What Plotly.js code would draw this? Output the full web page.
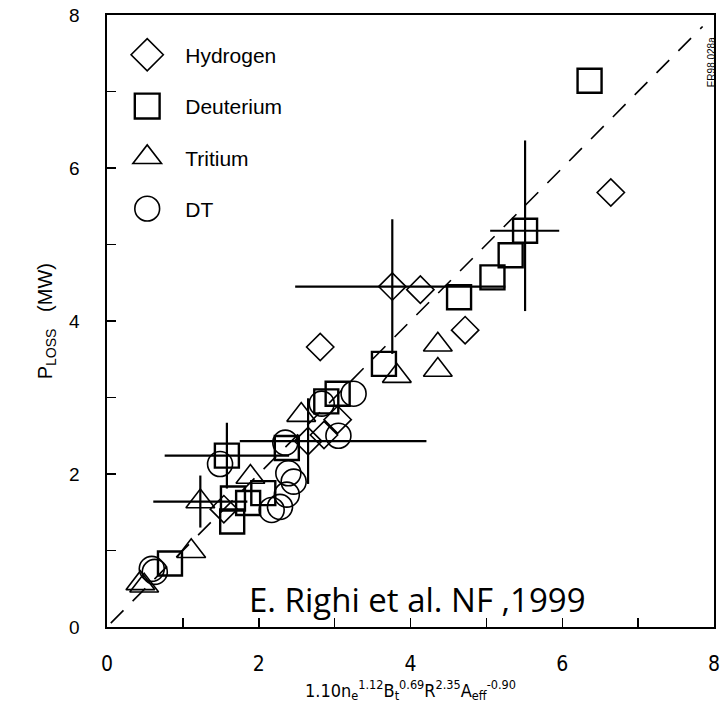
<!DOCTYPE html>
<html><head><meta charset="utf-8">
<script src="https://cdn.plot.ly/plotly-3.0.1.min.js"></script>
<style>html,body{margin:0;padding:0;background:#fff}</style>
</head><body><div id="chart" style="width:724px;height:704px"></div>
<script>
// ---- data ----
const hydrogenX = [6.64, 3.76, 4.13, 4.72, 2.81, 3.04, 2.86, 2.65, 1.54];
const hydrogenY = [5.68, 4.45, 4.41, 3.88, 3.66, 2.71, 2.51, 2.43, 1.54];
const hydrogenXErrPlus  = [0, 1.49, 0, 0, 0, 0, 0, 1.56, 0];
const hydrogenXErrMinus = [0, 1.28, 0, 0, 0, 0, 0, 0.90, 0];
const hydrogenYErrPlus  = [0, 0.88, 0, 0, 0, 0, 0, 0.56, 0];
const hydrogenYErrMinus = [0, 0.88, 0, 0, 0, 0, 0, 0.56, 0];

const deuteriumX = [6.36, 5.51, 5.32, 5.08, 4.64, 3.65, 3.04, 2.89, 2.37, 1.58, 2.06, 1.66, 1.86, 1.65, 0.83];
const deuteriumY = [7.14, 5.18, 4.86, 4.57, 4.31, 3.44, 3.05, 2.95, 2.34, 2.24, 1.75, 1.68, 1.62, 1.38, 0.83];
const deuteriumXErrPlus  = [0, 0.45, 0, 0, 0, 0, 0, 0, 0, 0.82, 0, 0, 0, 0, 0];
const deuteriumXErrMinus = [0, 0.46, 0, 0, 0, 0, 0, 0, 0, 0.82, 0, 0, 0, 0, 0];
const deuteriumYErrPlus  = [0, 1.18, 0, 0, 0, 0, 0, 0, 0, 0.43, 0, 0, 0, 0, 0];
const deuteriumYErrMinus = [0, 1.05, 0, 0, 0, 0, 0, 0, 0, 0.43, 0, 0, 0, 0, 0];

const tritiumX = [4.36, 4.36, 3.82, 2.56, 1.89, 1.23, 1.11, 0.44, 0.49];
const tritiumY = [3.69, 3.36, 3.28, 2.77, 1.96, 1.64, 0.99, 0.57, 0.54];
const tritiumXErr = [0, 0, 0, 0, 0, 0.62, 0, 0, 0];
const tritiumYErr = [0, 0, 0, 0, 0, 0.34, 0, 0, 0];

const dtX = [0.59, 0.63, 1.49, 2.35, 2.39, 2.46, 2.37, 2.28, 2.17, 2.83, 3.05, 3.25];
const dtY = [0.76, 0.72, 2.13, 2.41, 2.01, 1.90, 1.73, 1.57, 1.53, 2.92, 2.50, 3.05];

const identityLine = [0.05, 7.85];   // y = x reference line ends

const seriesNames = ['Hydrogen', 'Deuterium', 'Tritium', 'DT'];
const axisTicks = [0, 2, 4, 6, 8];
const xTitle = '1.10n<sub>e</sub><sup>1.12</sup>B<sub>t</sub><sup>0.69</sup>R<sup>2.35</sup>A<sub>eff</sub><sup>-0.90</sup>';
const yTitle = 'P<sub>LOSS</sub>   (MW)';

// ---- styling ----
const black = '#000';
const errStyle = {type: 'data', width: 0, thickness: 2.2, color: black};

const traces = [
  {
    name: seriesNames[3], x: dtX, y: dtY, type: 'scatter', mode: 'markers',
    legendgroup: 'g4', legendrank: 4,
    marker: {symbol: 'circle-open', size: 25, color: black, line: {width: 1.6, color: black}}
  },
  {
    name: seriesNames[2], x: tritiumX, y: tritiumY, type: 'scatter', mode: 'markers',
    legendgroup: 'g3', legendrank: 3,
    error_x: Object.assign({array: tritiumXErr}, errStyle),
    error_y: Object.assign({array: tritiumYErr}, errStyle),
    marker: {symbol: 'triangle-up-open', size: 25, color: black, line: {width: 1.6, color: black}}
  },
  {
    name: seriesNames[0], x: hydrogenX, y: hydrogenY, type: 'scatter', mode: 'markers',
    legendgroup: 'g1', legendrank: 1,
    error_x: Object.assign({symmetric: false, array: hydrogenXErrPlus, arrayminus: hydrogenXErrMinus}, errStyle),
    error_y: Object.assign({symmetric: false, array: hydrogenYErrPlus, arrayminus: hydrogenYErrMinus}, errStyle),
    marker: {symbol: 'diamond-open', size: 21, color: black, line: {width: 1.6, color: black}}
  },
  {
    name: seriesNames[1], x: deuteriumX, y: deuteriumY, type: 'scatter', mode: 'markers',
    legendgroup: 'g2', legendrank: 2,
    error_x: Object.assign({symmetric: false, array: deuteriumXErrPlus, arrayminus: deuteriumXErrMinus}, errStyle),
    error_y: Object.assign({symmetric: false, array: deuteriumYErrPlus, arrayminus: deuteriumYErrMinus}, errStyle),
    marker: {symbol: 'square-open', size: 24, color: black, line: {width: 2.4, color: black}}
  },
  {
    x: identityLine, y: identityLine, type: 'scatter', mode: 'lines', showlegend: false,
    hoverinfo: 'skip',
    line: {color: black, width: 1.6, dash: '18px,13px'}
  }
];

const narrow = '"Liberation Sans Narrow", "Arial Narrow", "DejaVu Sans Condensed", "Liberation Sans", Arial, sans-serif';
const arial = '"Liberation Sans", Arial, sans-serif';

const layout = {
  width: 724, height: 704,
  margin: {l: 107, r: 10, t: 15, b: 77},
  paper_bgcolor: '#fff', plot_bgcolor: '#fff',
  showlegend: true,
  legend: {
    x: 0.03, y: 0.968, xanchor: 'left', yanchor: 'top',
    bgcolor: 'rgba(0,0,0,0)', borderwidth: 0,
    font: {family: arial, size: 21, color: black},
    traceorder: 'grouped', tracegroupgap: 21, itemwidth: 50
  },
  xaxis: {
    range: [0, 8], tickvals: axisTicks, ticktext: axisTicks.map(String),
    ticks: 'inside', ticklen: 9, tickwidth: 1.5, tickcolor: black,
    minor: {dtick: 1, ticks: 'inside', ticklen: 9, tickwidth: 1.5, tickcolor: black},
    showline: true, linewidth: 1.6, linecolor: black, mirror: true,
    showgrid: false, zeroline: false,
    ticklabelstandoff: 17,
    tickfont: {family: narrow, size: 21, color: black}
  },
  yaxis: {
    range: [0, 8], tickvals: axisTicks, ticktext: axisTicks.map(String),
    ticks: 'inside', ticklen: 9, tickwidth: 1.5, tickcolor: black,
    minor: {dtick: 1, ticks: 'inside', ticklen: 9, tickwidth: 1.5, tickcolor: black},
    showline: true, linewidth: 1.6, linecolor: black, mirror: true,
    showgrid: false, zeroline: false,
    ticklabelstandoff: 22,
    tickfont: {family: arial, size: 19, color: black}
  },
  annotations: [
    {
      text: xTitle, xref: 'paper', yref: 'paper',
      x: 0.5, y: -0.1025, xanchor: 'center', yanchor: 'middle', showarrow: false,
      font: {family: narrow, size: 18, color: black}
    },
    {
      text: yTitle, xref: 'paper', yref: 'paper',
      x: -0.1, y: 0.5, xanchor: 'center', yanchor: 'middle', showarrow: false,
      textangle: -90,
      font: {family: arial, size: 20, color: black}
    },
    {
      text: 'E. Righi et al. NF ,1999', xref: 'paper', yref: 'paper',
      x: 0.511, y: 0.045, xanchor: 'center', yanchor: 'middle', showarrow: false,
      font: {family: '"Open Sans", "Noto Sans", sans-serif', size: 33, color: black}
    },
    {
      text: 'ER98.028a', xref: 'paper', yref: 'paper',
      x: 0.996, y: 0.922, xanchor: 'center', yanchor: 'middle', showarrow: false,
      textangle: -90,
      font: {family: arial, size: 10, color: black}
    }
  ]
};

Plotly.newPlot('chart', traces, layout, {displayModeBar: false, staticPlot: true}).then(function (gd) {
  // enlarge legend symbols to the size used in the reference figure
  gd.querySelectorAll('.legend .legendpoints path.scatterpts').forEach(function (p) {
    var t = p.getAttribute('transform') || '';
    p.setAttribute('transform', 'translate(-8,0) ' + t + ' scale(1.55)');
    p.style.vectorEffect = 'non-scaling-stroke';
  });
});
</script>
</body></html>
